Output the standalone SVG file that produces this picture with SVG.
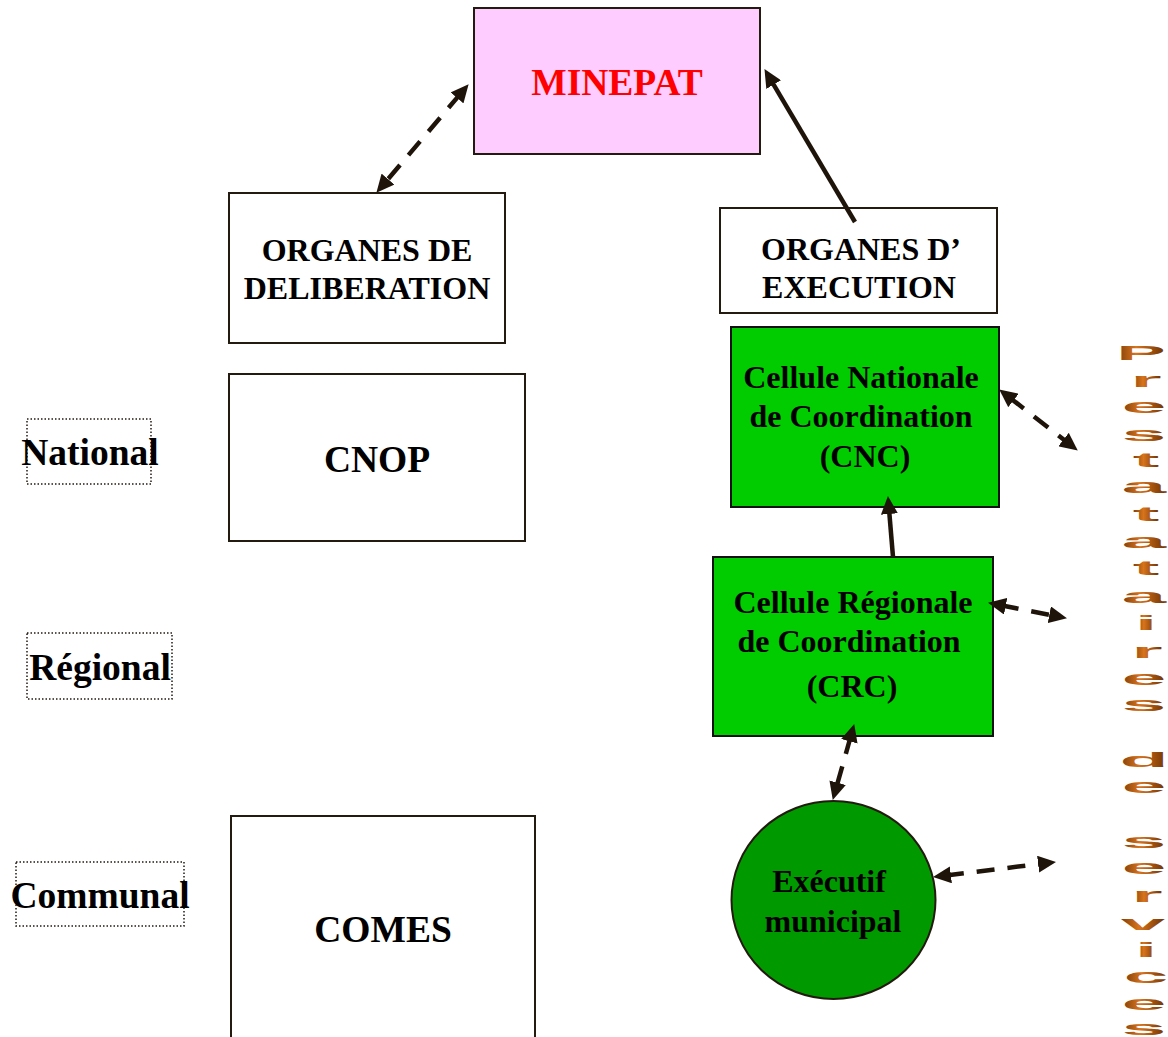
<svg xmlns="http://www.w3.org/2000/svg" width="1168" height="1037" viewBox="0 0 1168 1037">
<style>
.box{fill:#ffffff;stroke:#231a10;stroke-width:2}
.lvl{fill:none;stroke:#231a10;stroke-width:1.5;stroke-dasharray:1.5 2}
.t{font-family:"Liberation Serif","Times New Roman",serif;font-weight:bold;fill:#000;text-anchor:middle}
.t31{font-size:32px}
.t36{font-size:37.5px}
.con{fill:none;stroke:#1f140a;stroke-width:4.5}
.dash{stroke-dasharray:18 13}
.wa{font-family:"Liberation Sans",Arial,sans-serif;font-weight:bold;font-size:21px;text-anchor:middle;fill:url(#brown)}
</style>
<defs>
<linearGradient id="brown" x1="0" y1="0" x2="1" y2="0">
<stop offset="0" stop-color="#7a3c0c"/>
<stop offset="0.4" stop-color="#d8741c"/>
<stop offset="1" stop-color="#6b3000"/>
</linearGradient>
<marker id="ah" markerUnits="userSpaceOnUse" markerWidth="18" markerHeight="17" refX="5" refY="8.5" orient="auto-start-reverse" viewBox="0 0 18 17">
<path d="M0,0 L18,8.5 L0,17 z" fill="#1f140a"/>
</marker>
</defs>
<g id="minepat">
<rect x="474" y="8" width="286" height="146" fill="#ffccff" stroke="#231a10" stroke-width="2"/>
<text class="t t36" x="617" y="95" style="fill:#ff0000">MINEPAT</text>
</g>
<g id="organes-deliberation">
<rect class="box" x="229" y="193" width="276" height="150"/>
<text class="t t31" x="367" y="261">ORGANES DE</text>
<text class="t t31" x="367" y="299">DELIBERATION</text>
</g>
<g id="organes-execution">
<rect class="box" x="720" y="208" width="277" height="105"/>
<text class="t t31" x="861" y="260">ORGANES D’</text>
<text class="t t31" x="859" y="298">EXECUTION</text>
</g>
<g id="cnop">
<rect class="box" x="229" y="374" width="296" height="167"/>
<text class="t t36" x="377" y="472">CNOP</text>
</g>
<g id="comes">
<rect class="box" x="231" y="816" width="304" height="230"/>
<text class="t t36" x="383" y="942">COMES</text>
</g>
<g id="national">
<rect class="lvl" x="27" y="419" width="124" height="65"/>
<text class="t t36" x="90" y="465">National</text>
</g>
<g id="regional">
<rect class="lvl" x="27" y="633" width="145" height="66"/>
<text class="t t36" x="100" y="680">Régional</text>
</g>
<g id="communal">
<rect class="lvl" x="16" y="862" width="168" height="64"/>
<text class="t t36" x="100" y="908">Communal</text>
</g>
<g id="cnc">
<rect x="731" y="327" width="268" height="180" fill="#00cc00" stroke="#111" stroke-width="2"/>
<text class="t t31" x="861" y="388">Cellule Nationale</text>
<text class="t t31" x="861" y="427">de Coordination</text>
<text class="t t31" x="865" y="467">(CNC)</text>
</g>
<g id="crc">
<rect x="713" y="557" width="280" height="179" fill="#00cc00" stroke="#111" stroke-width="2"/>
<text class="t t31" x="853" y="613">Cellule Régionale</text>
<text class="t t31" x="849" y="652">de Coordination</text>
<text class="t t31" x="852" y="697">(CRC)</text>
</g>
<g id="executif">
<ellipse cx="833.5" cy="900" rx="102" ry="99" fill="#009900" stroke="#231a10" stroke-width="2"/>
<text class="t t31" x="829" y="892">Exécutif</text>
<text class="t t31" x="833" y="932">municipal</text>
</g>
<g id="connectors">
<line class="con dash" x1="460.2" y1="94.1" x2="384.8" y2="182.9" marker-start="url(#ah)" marker-end="url(#ah)"/>
<line class="con" x1="855" y1="222" x2="771.1" y2="80.3" marker-end="url(#ah)"/>
<line class="con dash" x1="1009.5" y1="397.4" x2="1067.5" y2="442.6" marker-start="url(#ah)" marker-end="url(#ah)"/>
<line class="con" x1="893" y1="557" x2="889" y2="509" marker-end="url(#ah)"/>
<line class="con dash" x1="1000.8" y1="605.3" x2="1054.2" y2="615.7" marker-start="url(#ah)" marker-end="url(#ah)"/>
<line class="con dash" x1="850.7" y1="736.5" x2="836.3" y2="787.5" marker-start="url(#ah)" marker-end="url(#ah)"/>
<line class="con dash" x1="945.9" y1="875.5" x2="1043.1" y2="863.5" marker-start="url(#ah)" marker-end="url(#ah)"/>
</g>
<g id="prestataires">
<text class="wa" transform="translate(1141,360) scale(3.5,1)">P</text>
<text class="wa" transform="translate(1146,387) scale(3.8,1)">r</text>
<text class="wa" transform="translate(1144,413) scale(3.8,1)">e</text>
<text class="wa" transform="translate(1144,441) scale(3.8,1)">s</text>
<text class="wa" transform="translate(1146,467) scale(3.8,1)">t</text>
<text class="wa" transform="translate(1144,493) scale(3.8,1)">a</text>
<text class="wa" transform="translate(1146,521) scale(3.8,1)">t</text>
<text class="wa" transform="translate(1144,548) scale(3.8,1)">a</text>
<text class="wa" transform="translate(1146,575) scale(3.8,1)">t</text>
<text class="wa" transform="translate(1144,603) scale(3.8,1)">a</text>
<text class="wa" transform="translate(1146,630) scale(3.8,1)">i</text>
<text class="wa" transform="translate(1147,658) scale(3.8,1)">r</text>
<text class="wa" transform="translate(1144,685) scale(3.8,1)">e</text>
<text class="wa" transform="translate(1144,711) scale(3.8,1)">s</text>
<text class="wa" transform="translate(1144,767) scale(3.8,1)">d</text>
<text class="wa" transform="translate(1144,793) scale(3.8,1)">e</text>
<text class="wa" transform="translate(1144,848) scale(3.8,1)">s</text>
<text class="wa" transform="translate(1144,874) scale(3.8,1)">e</text>
<text class="wa" transform="translate(1147,902) scale(3.8,1)">r</text>
<text class="wa" transform="translate(1143,930) scale(3.8,1)">v</text>
<text class="wa" transform="translate(1146,957) scale(3.8,1)">i</text>
<text class="wa" transform="translate(1146,983) scale(3.8,1)">c</text>
<text class="wa" transform="translate(1144,1010) scale(3.8,1)">e</text>
<text class="wa" transform="translate(1144,1035) scale(3.8,1)">s</text>
</g>
</svg>
